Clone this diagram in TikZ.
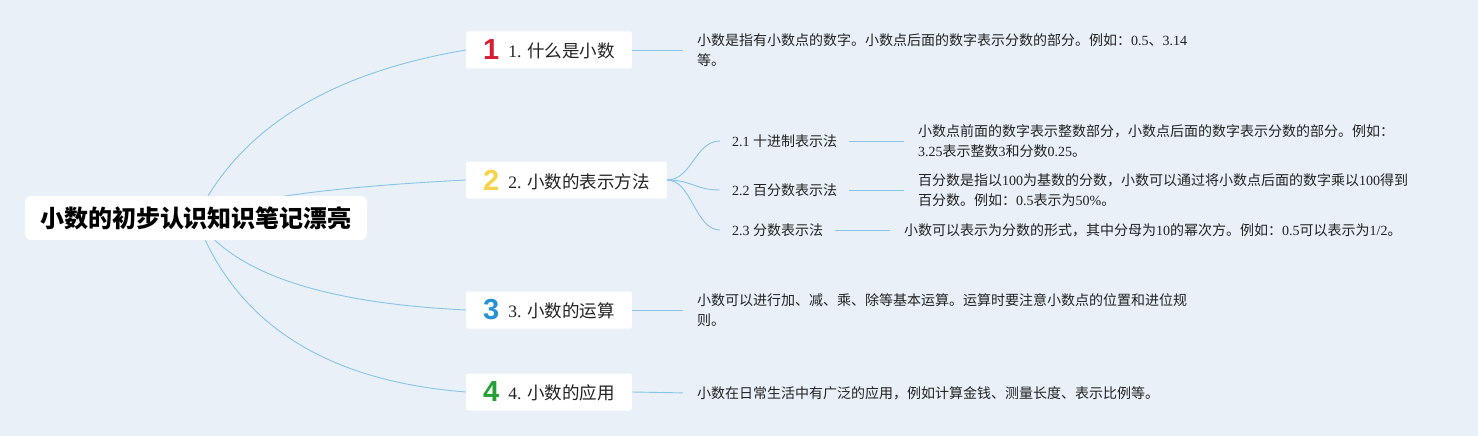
\documentclass[tikz,border=0pt]{standalone}
\usepackage{fontspec}
\setmainfont{Noto Sans CJK SC}
\newfontfamily\cjkfont{Noto Sans CJK SC}
\newfontfamily\latinfont{Liberation Serif}
\newfontfamily\iconfont{Liberation Sans}
\usetikzlibrary{calc}

% Han characters in Noto, Latin runs in a serif
\newXeTeXintercharclass\hanclass
\newcount\hanidx
\newcommand\hanrange[2]{\hanidx=#1\relax
  \loop\XeTeXcharclass\hanidx=\hanclass
  \ifnum\hanidx<#2\relax\advance\hanidx by 1\repeat}
\hanrange{"3000}{"303F}
\hanrange{"4E00}{"9FFF}
\hanrange{"FF00}{"FFEF}
\XeTeXinterchartoks 0 \hanclass = {\cjkfont}
\XeTeXinterchartoks 4095 \hanclass = {\cjkfont}
\XeTeXinterchartoks \hanclass 0 = {\latinfont}
\XeTeXinterchartoks 4095 0 = {\latinfont}
\XeTeXinterchartokenstate=1

\definecolor{paper}{RGB}{233,240,248}
\definecolor{linkblue}{RGB}{135,196,232}
\definecolor{ink}{RGB}{34,34,34}
\definecolor{onered}{RGB}{214,30,48}
\definecolor{twoyellow}{RGB}{246,212,74}
\definecolor{threeblue}{RGB}{40,146,216}
\definecolor{fourgreen}{RGB}{36,160,52}

% Numbered marker in front of a topic
\newcommand\numicon[2]{\raisebox{-2pt}{\XeTeXinterchartokenstate=0
  \fontsize{29}{29}\iconfont\bfseries\color{#1}#2}\hspace{9pt}}

\pgfdeclarelayer{bg}
\pgfdeclarelayer{links}
\pgfsetlayers{bg,links,main}

\tikzset{
  rootbox/.style={fill=white,rounded corners=6pt,minimum height=44pt,
    inner xsep=15pt,font=\fontsize{24}{28}\selectfont\bfseries,text=black},
  topicbox/.style={fill=white,rounded corners=2pt,minimum height=37pt,
    inner xsep=17pt,inner ysep=2pt,anchor=west,
    font=\fontsize{17.5}{21}\selectfont,text=ink},
  subtopic/.style={anchor=west,inner xsep=12pt,
    font=\fontsize{14}{18}\selectfont,text=ink},
  note/.style={anchor=west,align=left,inner xsep=6pt,
    font=\fontsize{14}{20}\selectfont,text=ink},
  link/.style={draw=linkblue,line width=0.9pt},
  notelink/.style={link,shorten >=8pt}
}

\begin{document}
\begin{tikzpicture}[x=1pt,y=-1pt]

% Canvas
\begin{pgfonlayer}{bg}
\fill[paper] (0,0) rectangle (1478,436);
\end{pgfonlayer}
\useasboundingbox (0,0) rectangle (1478,436);

%%%%%%%%%%%%%%%%%%%%%%%%%%%%%%%%%%%%%%%%%%%%%%%%%%
% Root and topics
%%%%%%%%%%%%%%%%%%%%%%%%%%%%%%%%%%%%%%%%%%%%%%%%%%

\node[rootbox] (root) at (196,218) {小数的初步认识知识笔记漂亮};

\node[topicbox] (what) at (466,50) {\numicon{onered}{1}1. 什么是小数};
\node[topicbox] (forms) at (466,180) {\numicon{twoyellow}{2}2. 小数的表示方法};
\node[topicbox] (calc) at (466,310) {\numicon{threeblue}{3}3. 小数的运算};
\node[topicbox] (use) at (466,392) {\numicon{fourgreen}{4}4. 小数的应用};

%%%%%%%%%%%%%%%%%%%%%%%%%%%%%%%%%%%%%%%%%%%%%%%%%%
% Sub topics of 2
%%%%%%%%%%%%%%%%%%%%%%%%%%%%%%%%%%%%%%%%%%%%%%%%%%

\node[subtopic] (dec) at (720,141) {2.1 十进制表示法};
\node[subtopic] (pct) at (720,190) {2.2 百分数表示法};
\node[subtopic] (frac) at (720,230) {2.3 分数表示法};

%%%%%%%%%%%%%%%%%%%%%%%%%%%%%%%%%%%%%%%%%%%%%%%%%%
% Notes
%%%%%%%%%%%%%%%%%%%%%%%%%%%%%%%%%%%%%%%%%%%%%%%%%%

\node[note] (whatnote) at (691,50)
{小数是指有小数点的数字。小数点后面的数字表示分数的部分。例如：0.5、3.14\\等。};
\node[note] (decnote) at (912,141)
{小数点前面的数字表示整数部分，小数点后面的数字表示分数的部分。例如：\\3.25表示整数3和分数0.25。};
\node[note] (pctnote) at (912,190)
{百分数是指以100为基数的分数，小数可以通过将小数点后面的数字乘以100得到\\百分数。例如：0.5表示为50\%。};
\node[note] (fracnote) at (898,230)
{小数可以表示为分数的形式，其中分母为10的幂次方。例如：0.5可以表示为1/2。};
\node[note] (calcnote) at (691,310)
{小数可以进行加、减、乘、除等基本运算。运算时要注意小数点的位置和进位规\\则。};
\node[note] (usenote) at (691,393)
{小数在日常生活中有广泛的应用，例如计算金钱、测量长度、表示比例等。};

%%%%%%%%%%%%%%%%%%%%%%%%%%%%%%%%%%%%%%%%%%%%%%%%%%
% Links
%%%%%%%%%%%%%%%%%%%%%%%%%%%%%%%%%%%%%%%%%%%%%%%%%%

\begin{pgfonlayer}{links}
% root to topics
\draw[link] (root.center) .. controls +(43,-89) and +(-137,23) .. (what.west);
\draw[link] (root.center) .. controls +(43,-19) and +(-137,7) .. (forms.west);
\draw[link] (root.center) .. controls +(36,55) and +(-144,-7) .. (calc.west);
\draw[link] (root.center) .. controls +(39,105) and +(-141,-11) .. (use.west);

% topic 2 to sub topics
\draw[link] (forms.east) .. controls +(25,0) and +(-25,0) .. (dec.west);
\draw[link] (forms.east) .. controls +(25,0) and +(-25,0) .. (pct.west);
\draw[link] (forms.east) .. controls +(25,0) and +(-25,0) .. (frac.west);

% to notes
\draw[notelink] (what.east) -- (whatnote.west);
\draw[notelink] (dec.east) -- (decnote.west);
\draw[notelink] (pct.east) -- (pctnote.west);
\draw[notelink] (frac.east) -- (fracnote.west);
\draw[notelink] (calc.east) -- (calcnote.west);
\draw[notelink] (use.east) -- (usenote.west);
\end{pgfonlayer}

\end{tikzpicture}
\end{document}
